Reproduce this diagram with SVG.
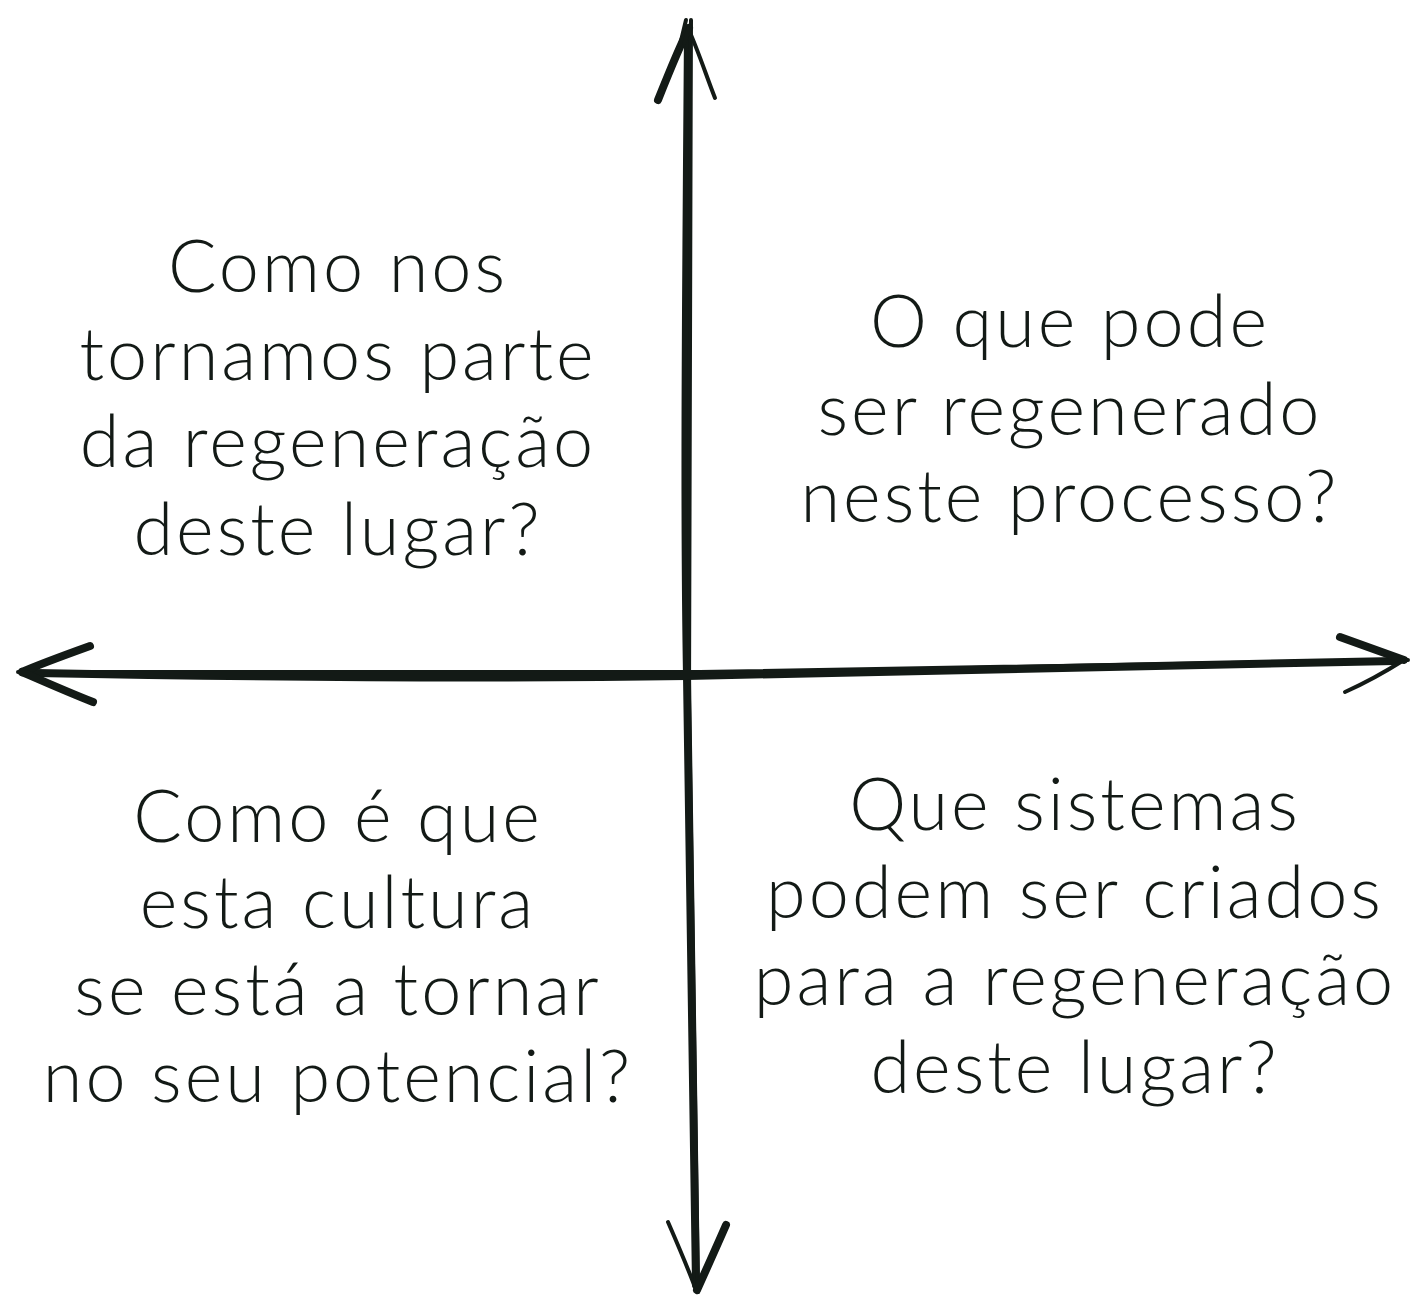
<svg xmlns="http://www.w3.org/2000/svg" width="1411" height="1298" viewBox="0 0 1411 1298">
<style>
.t{font-family:Lato,"Open Sans","Liberation Sans",sans-serif;font-weight:300;font-size:72px;letter-spacing:3px;fill:#131a16;text-anchor:middle}
.ax{fill:none;stroke:#131a16;stroke-linecap:round;stroke-linejoin:round}
.thick{stroke-width:8}
.thin{stroke-width:4}
</style>
<rect width="1411" height="1298" fill="#ffffff"/>
<g id="connectors">
<!-- vertical axis -->
<path class="ax thick" d="M688 30 C686 300 684 500 687 676 C690 900 694 1100 696 1285"/>
<path class="ax thin" d="M691 20 C690 300 688 600 689 700 C692 950 697 1150 698 1292"/>
<!-- horizontal axis -->
<path class="ax thick" d="M35 673 C300 678 500 679 687 676 C900 672 1150 666 1395 661"/>
<path class="ax thin" d="M18 672 C300 670 500 673 700 672 C950 668 1200 664 1408 660"/>
<!-- top arrowhead -->
<path class="ax thick" d="M658 100 C670 70 680 45 689 28"/>
<path class="ax thin" d="M688 28 C698 50 706 75 715 98"/>
<path class="ax thin" d="M680 45 L686 20"/>
<!-- bottom arrowhead -->
<path class="ax thin" d="M668 1222 C678 1245 688 1268 696 1290"/>
<path class="ax thick" d="M726 1225 C716 1248 706 1270 697 1290"/>
<!-- left arrowhead -->
<path class="ax thick" d="M90 646 C65 655 40 664 22 672"/>
<path class="ax thick" d="M93 702 C70 693 45 682 22 672"/>
<!-- right arrowhead -->
<path class="ax thick" d="M1340 637 C1365 646 1385 653 1404 660"/>
<path class="ax thin" d="M1345 692 C1365 683 1385 672 1404 660"/>
</g>
<g id="q1">
<text class="t" x="338" y="292">Como nos</text>
<text class="t" x="338" y="380">tornamos parte</text>
<text class="t" x="338" y="467">da regeneração</text>
<text class="t" x="338" y="555">deste lugar?</text>
</g>
<g id="q2">
<text class="t" x="1070" y="347">O que pode</text>
<text class="t" x="1070" y="435">ser regenerado</text>
<text class="t" x="1070" y="522">neste processo?</text>
</g>
<g id="q3">
<text class="t" x="338" y="842">Como é que</text>
<text class="t" x="338" y="928">esta cultura</text>
<text class="t" x="338" y="1015">se está a tornar</text>
<text class="t" x="338" y="1102">no seu potencial?</text>
</g>
<g id="q4">
<text class="t" x="1075" y="830">Que sistemas</text>
<text class="t" x="1075" y="918">podem ser criados</text>
<text class="t" x="1075" y="1005">para a regeneração</text>
<text class="t" x="1075" y="1093">deste lugar?</text>
</g>
</svg>
